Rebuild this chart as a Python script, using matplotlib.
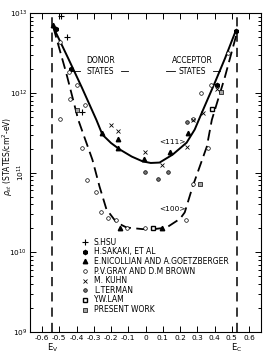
import numpy as np
import matplotlib
matplotlib.use("Agg")
import matplotlib.pyplot as plt
from matplotlib.ticker import LogLocator, MultipleLocator, NullFormatter

# ---------------------------------------------------------------
# Data (energy in eV, log10 of surface state density)
# ---------------------------------------------------------------
E_V = -0.54
E_C = 0.53

# <111> fitted curve (solid)
curve111_x = [-0.535, -0.45, -0.37, -0.285, -0.25, -0.2, -0.15, -0.08, -0.017,
              0.03, 0.081, 0.157, 0.238, 0.285, 0.326, 0.4, 0.46, 0.523]
curve111_log = [12.825, 12.44, 12.07, 11.66, 11.475, 11.37, 11.29, 11.2, 11.14,
                11.12, 11.125, 11.225, 11.375, 11.54, 11.75, 12.12, 12.43, 12.78]

# <100> fitted curve (dashed)
curve100_x = [-0.535, -0.46, -0.39, -0.308, -0.267, -0.227, -0.169, -0.11, -0.017,
              0.05, 0.122, 0.2, 0.227, 0.273, 0.355, 0.384, 0.46, 0.529]
curve100_log = [12.825, 12.25, 11.66, 11.16, 10.825, 10.54, 10.375, 10.31, 10.29,
                10.29, 10.31, 10.42, 10.5, 10.825, 11.325, 11.66, 12.2, 12.75]

hsu_x = [-0.488, -0.453, -0.366]
hsu_log = [12.96, 12.70, 11.76]

sakaki_x = [-0.517, -0.43, 0.413, 0.523]
sakaki_log = [12.80, 12.30, 12.10, 12.775]

nicollian_x = [-0.535, -0.25, -0.157, -0.157, -0.012, 0.14, 0.244, -0.151, 0.093]
nicollian_log = [12.85, 11.50, 11.425, 11.31, 11.175, 11.26, 11.49, 10.31, 10.31]

gray_x = [-0.494, -0.442, -0.395, -0.436, -0.349, -0.494, -0.366, -0.337, -0.285,
          -0.256, -0.22, -0.169, -0.105, -0.006, 0.233, 0.273, 0.36, 0.32, 0.378,
          0.477, 0.273]
gray_log = [12.64, 12.26, 12.10, 11.925, 11.85, 11.675, 11.31, 10.91, 10.76,
            10.5, 10.425, 10.41, 10.31, 10.30, 10.41, 10.85, 11.31, 12.0, 12.1,
            12.5, 11.675]

kuhn_x = [-0.203, -0.157, -0.006, 0.093, 0.238, 0.273, 0.413, 0.331]
kuhn_log = [11.6, 11.525, 11.26, 11.1, 11.325, 11.66, 12.05, 11.75]

terman_x = [-0.006, 0.07, 0.128, 0.238]
terman_log = [11.01, 10.925, 11.01, 11.64]

lam_x = [0.041, 0.384]
lam_log = [10.31, 11.8]

present_x = [-0.395, 0.314, 0.436]
present_log = [11.79, 10.85, 12.01]

x_ticks = [-0.6, -0.5, -0.4, -0.3, -0.2, -0.1, 0, 0.1, 0.2, 0.3, 0.4, 0.5, 0.6]
x_ticklabels = ["-0.6", "-0.5", "-0.4", "-0.3", "-0.2", "-0.1", "0",
                "0.1", "0.2", "0.3", "0.4", "0.5", "0.6"]

def p(v):
    return 10.0 ** np.asarray(v)

# ---------------------------------------------------------------
# Figure
# ---------------------------------------------------------------
plt.rcParams["font.family"] = "DejaVu Sans"
fig = plt.figure(figsize=(2.63, 3.55), dpi=100)
ax = fig.add_axes([0.114, 0.065, 0.879, 0.898])

ax.set_yscale("log")
ax.set_xlim(-0.67, 0.67)
ax.set_ylim(1e9, 1e13)

# band edges
ax.axvline(E_V, color="black", lw=1.1, linestyle=(0, (6, 4)))
ax.axvline(E_C, color="black", lw=1.1, linestyle=(0, (6, 4)))

# fitted curves
ax.plot(curve111_x, p(curve111_log), color="black", lw=1.4)
ax.plot(curve100_x, p(curve100_log), color="black", lw=1.3, linestyle=(0, (6, 3)))

# measurements
mk = dict(linestyle="none", color="black", mec="black")
ax.plot(hsu_x, p(hsu_log), marker="+", ms=4.5, mew=0.8, label="S.HSU", **mk)
ax.plot(sakaki_x, p(sakaki_log), marker="h", ms=3, label="H.SAKAKI, ET AL", **mk)
ax.plot(nicollian_x, p(nicollian_log), marker="^", ms=3.2,
        label="E.NICOLLIAN AND A.GOETZBERGER", **mk)
ax.plot(gray_x, p(gray_log), marker="o", ms=2.6, mfc="white", mew=0.5,
        label="P.V.GRAY AND D.M BROWN", **mk)
ax.plot(kuhn_x, p(kuhn_log), marker="x", ms=2.8, mew=0.6, label="M. KUHN", **mk)
ax.plot(terman_x, p(terman_log), marker="o", ms=2.6, mfc="0.45", mew=0.5,
        label="L.TERMAN", **mk)
ax.plot(lam_x, p(lam_log), marker="s", ms=3.2, mfc="white", mew=1.0,
        label="Y.W.LAM", **mk)
ax.plot(present_x, p(present_log), marker="s", ms=3, mfc="0.65", mew=0.5,
        label="PRESENT WORK", **mk)

leg = ax.legend(loc="upper left", bbox_to_anchor=(0.2, 0.31), frameon=False,
                fontsize=5.5, handlelength=1.0, handletextpad=0.7,
                handleheight=0.5, labelspacing=0.08, borderpad=0.1)

# state annotations
ax.text(-0.26, p(12.40), "DONOR", fontsize=5.5, ha="center", va="center")
ax.text(-0.26, p(12.27), "STATES", fontsize=5.5, ha="center", va="center")
ax.plot([-0.43, -0.38], p([12.27, 12.27]), color="black", lw=0.6)
ax.plot([-0.14, -0.10], p([12.27, 12.27]), color="black", lw=0.6)
ax.text(0.27, p(12.40), "ACCEPTOR", fontsize=5.5, ha="center", va="center")
ax.text(0.27, p(12.27), "STATES", fontsize=5.5, ha="center", va="center")
ax.plot([0.12, 0.17], p([12.27, 12.27]), color="black", lw=0.6)
ax.plot([0.39, 0.43], p([12.27, 12.27]), color="black", lw=0.6)

ax.text(0.155, p(11.38), "<111>", fontsize=5.3, ha="center", va="center")
ax.text(0.155, p(10.54), "<100>", fontsize=5.3, ha="center", va="center")

# axes, ticks
ax.set_xticks(x_ticks)
ax.set_xticklabels(x_ticklabels)
ax.xaxis.set_minor_locator(MultipleLocator(0.05))
ax.yaxis.set_major_locator(LogLocator(base=10, numticks=10))
ax.yaxis.set_minor_locator(LogLocator(base=10, subs=np.arange(2, 10) * 1.0, numticks=20))
ax.yaxis.set_minor_formatter(NullFormatter())
ax.tick_params(which="both", direction="in", top=True, right=True,
               labelsize=5.3, width=0.7, pad=2)
ax.tick_params(which="major", length=4)
ax.tick_params(which="minor", length=2)
ax.tick_params(axis="x", which="minor", length=0)
for s in ax.spines.values():
    s.set_linewidth(0.8)

# the 10^11 label is printed sideways in the original
fig.canvas.draw()
for lab in ax.get_yticklabels():
    if "11" in lab.get_text():
        lab.set_rotation(90)
        lab.set_va("center")

ax.set_ylabel(r"$\rho_{st}$ (STATES/cm$^2$-eV)", fontsize=5.5)
ax.yaxis.set_label_coords(-0.065, 0.55)

# band edge labels
ax.text(E_V, -0.05, r"E$_\mathrm{V}$", transform=ax.get_xaxis_transform(),
        fontsize=6, ha="center", va="center")
ax.text(E_C, -0.05, r"E$_\mathrm{C}$", transform=ax.get_xaxis_transform(),
        fontsize=6, ha="center", va="center")

fig.savefig("out.png", dpi=100)
